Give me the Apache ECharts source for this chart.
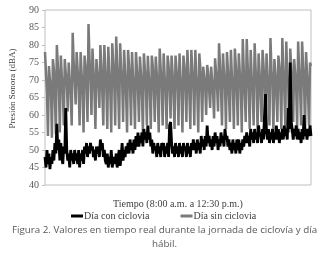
<!DOCTYPE html>
<html>
<head>
<meta charset="utf-8">
<script src="https://cdn.jsdelivr.net/npm/echarts@6/dist/echarts.min.js"></script>
<style>
  html, body { margin: 0; padding: 0; background: #fff; }
  #chart { width: 329px; height: 278px; }
</style>
</head>
<body>
<div id="chart"></div>
<script>
// Presión sonora, un valor por minuto (8:00 a.m. a 12:30 p.m.)
const yTicks = [40, 45, 50, 55, 60, 65, 70, 75, 80, 85, 90];

const sinCiclovia = [
  78, 72, 66, 54, 74, 70, 68, 53.5, 76, 73, 65, 54.5, 80, 74, 69, 55,
  77, 71, 67, 57, 76, 72, 70, 61, 75, 70, 66, 57, 83.5, 75, 70, 63,
  78, 73, 68, 57, 78, 72, 66, 55, 77, 74, 69, 58, 86, 76, 70, 60,
  79, 73, 67, 56, 76, 72, 69, 62, 80, 74, 66, 57, 80, 73, 68, 56,
  79.5, 72, 67, 55, 80.5, 75, 69, 57, 82.4, 74, 67, 56, 80.5, 73, 70, 58,
  78.6, 72, 66, 55, 78.6, 74, 69, 57, 78, 71, 67, 56, 78, 73, 68, 58,
  76.7, 72, 66, 55, 77.6, 73, 69, 57, 76.9, 71, 67, 56, 77, 74, 68, 58,
  76.7, 72, 66, 55, 79, 73, 69, 57, 77.6, 71, 67, 56, 77, 74, 68, 59,
  77, 72, 66, 56, 77, 73, 69, 57, 77.6, 71, 67, 55, 77, 74, 68, 58,
  78.6, 72, 66, 56, 78.6, 73, 69, 57, 78.6, 71, 67, 55, 77.6, 74, 68, 58,
  73.8, 71, 68, 60, 74.3, 72, 67, 62, 73.8, 70, 66, 59, 76.2, 72, 68, 61,
  80.5, 74, 67, 57, 77.6, 72, 69, 56, 78, 73, 66, 58, 78.6, 71, 68, 56,
  79, 74, 67, 57, 77.6, 72, 69, 55, 81.7, 73, 66, 58, 81.7, 74, 68, 56,
  78.6, 71, 67, 57, 80.5, 73, 69, 55, 77.6, 72, 66, 58, 78.6, 74, 68, 56,
  77.6, 71, 67, 57, 82, 73, 69, 55, 76, 72, 66, 58, 77, 74, 68, 56,
  82, 73, 67, 57, 81, 71, 69, 55, 79, 74, 66, 58, 76, 72, 68, 56,
  81, 73, 67, 57, 81, 74, 69, 55, 78, 72, 66, 57, 75, 74
];

const conCiclovia = [
  48, 45, 50, 46, 49, 44.5, 48, 46, 50, 47, 52, 49, 57.5, 50, 53, 47, 52, 48, 46, 51, 49, 62, 50, 47, 49, 45, 50, 47, 49, 46,
  50, 47, 49, 46, 50, 45, 49, 47, 50, 46, 51, 49, 52, 48, 51, 49, 52, 50, 51, 48, 50, 47, 51, 49, 51, 48, 53, 50, 52, 48,
  50, 47, 46, 49, 45, 48, 46, 50, 45, 47, 48, 46, 49, 45, 48, 50, 45.5, 48, 52, 47, 50, 48, 51, 49, 52, 49, 53, 50, 52, 49,
  53, 50, 54, 51, 55, 51, 54, 52, 55, 51, 56, 53, 55, 52, 57, 53, 55, 51, 53, 49, 52, 50, 51, 48, 52, 49, 51, 48, 52, 50,
  52, 48, 51, 49, 52, 48, 57, 58, 52, 49, 51, 48, 52, 49, 51, 48, 52, 49, 51, 48, 52, 50, 51, 48, 52, 49, 51, 48, 52, 50,
  53, 50, 52, 49, 53, 50, 52, 49, 54, 51, 53, 50, 54, 51, 57, 52, 54, 51, 53, 50, 54, 51, 55, 52, 54, 50, 53, 51, 55, 52,
  54, 51, 56, 53, 54, 51, 53, 50, 52, 49, 53, 50, 52, 49, 53, 50, 53, 49, 52, 50, 53, 51, 54, 52, 55, 52, 54, 51, 56, 53,
  55, 52, 56, 53, 55, 52, 57, 54, 55, 52, 56, 53, 60, 66, 55, 53, 56, 52, 55, 53, 56, 52, 55, 53, 57, 53, 56, 52, 55, 53,
  56, 53, 57, 54, 56, 53, 62, 56, 75, 58, 56, 53, 56, 54, 57, 53, 56, 53, 55, 52, 56, 53, 60, 54, 56, 53, 56, 54, 57, 54
];

const minutos = conCiclovia.map((v, i) => i);

const chart = echarts.init(document.getElementById('chart'), null, { renderer: 'canvas' });

const serif = 'Liberation Serif';
const option = {
  animation: false,
  backgroundColor: '#fff',
  grid: {
    left: 40, right: 18, top: 10, bottom: 93,
    show: true,
    borderColor: '#bfbfbf',
    borderWidth: 1
  },
  legend: {
    top: 206,
    left: 66,
    itemWidth: 12,
    itemHeight: 3,
    itemGap: 31,
    icon: 'rect',
    textStyle: { fontFamily: serif, fontSize: 10, color: '#404040', padding: [0, 0, 0, -4] },
    data: ['Día con ciclovia', 'Día sin ciclovia']
  },
  xAxis: {
    type: 'category',
    data: minutos,
    boundaryGap: false,
    axisLine: { show: false },
    axisTick: { show: false },
    axisLabel: { show: false },
    name: 'Tiempo (8:00 a.m. a 12:30 p.m.)',
    nameLocation: 'middle',
    nameGap: 14,
    nameTextStyle: { fontFamily: serif, fontSize: 10, color: '#404040' }
  },
  yAxis: {
    type: 'value',
    min: yTicks[0],
    max: yTicks[yTicks.length - 1],
    interval: 5,
    splitLine: { show: false },
    axisLine: { show: false },
    axisTick: { show: true, length: 3, lineStyle: { color: '#bfbfbf' } },
    axisLabel: { fontFamily: serif, fontSize: 10, color: '#595959', margin: 6 },
    name: 'Presión Sonora (dBA)',
    nameLocation: 'middle',
    nameGap: 28,
    nameTextStyle: { fontFamily: serif, fontSize: 9, color: '#404040', padding: [0, 0, 0, 18] }
  },
  series: [
    {
      name: 'Día sin ciclovia',
      type: 'line',
      data: sinCiclovia,
      symbol: 'none',
      lineStyle: { color: '#7a7a7a', width: 2.5 },
      itemStyle: { color: '#7a7a7a' },
      z: 2
    },
    {
      name: 'Día con ciclovia',
      type: 'line',
      data: conCiclovia,
      symbol: 'none',
      lineStyle: { color: '#000', width: 2.8 },
      itemStyle: { color: '#000' },
      z: 3
    }
  ],
  graphic: [
    {
      type: 'text',
      left: 'center',
      top: 225,
      style: {
        text: 'Figura 2. Valores en tiempo real durante la jornada de ciclovía y día',
        font: '9.8px "Open Sans"',
        fill: '#595959'
      }
    },
    {
      type: 'text',
      left: 'center',
      top: 239,
      style: {
        text: 'hábil.',
        font: '9.8px "Open Sans"',
        fill: '#595959'
      }
    }
  ]
};

chart.setOption(option);
</script>
</body>
</html>
